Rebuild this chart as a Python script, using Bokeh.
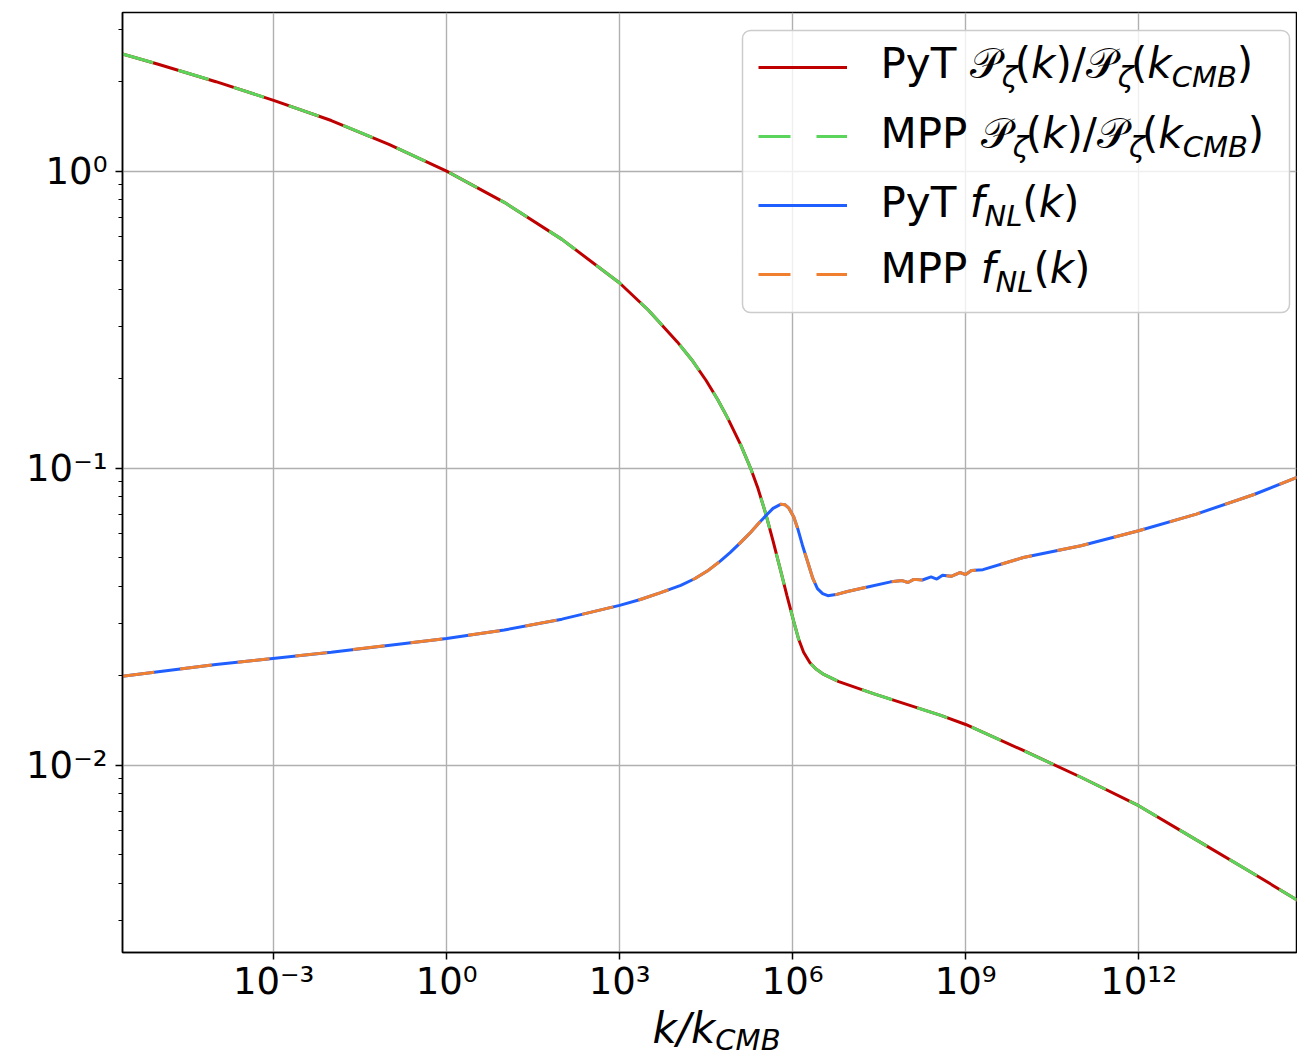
import numpy as np
from bokeh.plotting import figure
from bokeh.layouts import column
from bokeh.models import (FixedTicker, CustomJSTickFormatter, Label, Legend,
                          LegendItem, Range1d, BoxAnnotation)
from bokeh.embed import file_html
from bokeh.resources import INLINE

# ---------------- data ----------------
logk_P = [-5.62, -5.0, -4.0, -3.0, -2.0, -1.0, 0.0, 1.0, 2.0, 3.0, 3.5, 4.0,
          4.25, 4.5, 4.7, 4.87, 5.1, 5.27, 5.4, 5.53, 5.66, 5.79, 5.9, 6.02,
          6.1, 6.19, 6.3, 6.4, 6.54, 6.8, 7.4, 8.57, 9.0, 10.0, 11.0, 12.0,
          13.0, 14.0, 14.76]
P_ratio = [2.48, 2.29, 2.00, 1.73, 1.48, 1.23, 1.00, 0.785, 0.589, 0.42, 0.340,
           0.266, 0.2317, 0.1972, 0.1702, 0.1479, 0.1197, 0.100, 0.0853, 0.0706,
           0.0569, 0.0453, 0.0373, 0.0304, 0.0267, 0.0240, 0.0221, 0.0211,
           0.0202, 0.0191, 0.0174, 0.0147, 0.0137, 0.0112, 0.0091, 0.0073,
           0.0056, 0.0043, 0.0035]

logk_f = [-5.62, -4.0, -2.0, 0.0, 1.0, 2.0, 3.0, 3.36, 3.7, 4.06, 4.3, 4.52,
          4.75, 4.92, 5.1, 5.27, 5.4, 5.53, 5.66, 5.79, 5.87, 5.93, 6.02, 6.09,
          6.17, 6.26, 6.35, 6.43, 6.52, 6.61, 6.75, 6.95, 7.3, 7.7, 7.9, 8.0,
          8.1, 8.25, 8.4, 8.5, 8.6, 8.75, 8.9, 9.0, 9.1, 9.3, 10.0, 11.0, 12.0,
          13.0, 14.0, 14.76]
f_NL = [0.0199, 0.0218, 0.0240, 0.0267, 0.0285, 0.0310, 0.0345, 0.0361, 0.0380,
        0.0403, 0.0424, 0.0450, 0.0487, 0.0520, 0.0562, 0.0607, 0.0648, 0.0690,
        0.0732, 0.0755, 0.0752, 0.0735, 0.0685, 0.0624, 0.0550, 0.0484, 0.0425,
        0.0393, 0.0378, 0.0372, 0.0375, 0.0384, 0.0398, 0.0414, 0.0418, 0.0412,
        0.0422, 0.0420, 0.0430, 0.0423, 0.0436, 0.0432, 0.0445, 0.0438, 0.0452,
        0.0455, 0.0500, 0.0548, 0.0615, 0.0700, 0.0815, 0.0933]

x_ticks = [1e-3, 1e0, 1e3, 1e6, 1e9, 1e12]
y_ticks = [1e-2, 1e-1, 1e0]
y_minor = [3e-3, 4e-3, 5e-3, 6e-3, 7e-3, 8e-3, 9e-3,
           2e-2, 3e-2, 4e-2, 5e-2, 6e-2, 7e-2, 8e-2, 9e-2,
           2e-1, 3e-1, 4e-1, 5e-1, 6e-1, 7e-1, 8e-1, 9e-1, 2.0, 3.0]

k_P = [10 ** v for v in logk_P]
k_f = [10 ** v for v in logk_f]

RED, GREEN, BLUE, ORANGE = "#bf0000", "#5ad45a", "#1f5fff", "#f08030"

# ---------------- figure ----------------
W, H1, H2 = 1297, 1005, 53
FL, FT, FB, FR = 122, 12, 955, 1296     # frame edges (pixels)
p = figure(width=W, height=H1, x_axis_type="log", y_axis_type="log",
           x_range=Range1d(10 ** -5.62, 10 ** 14.737),
           y_range=Range1d(10 ** -2.631, 10 ** 0.534),
           output_backend="svg", toolbar_location=None,
           min_border_left=FL, min_border_right=W - FR, min_border_top=FT,
           min_border_bottom=H1 - FB)
p.background_fill_color = "white"
p.border_fill_color = "white"
p.outline_line_color = "black"
p.outline_line_width = 1.5

xt = FixedTicker(ticks=x_ticks, minor_ticks=[])
yt = FixedTicker(ticks=y_ticks, minor_ticks=y_minor)
p.xaxis.ticker = xt
p.yaxis.ticker = yt
p.xgrid.ticker = xt
p.ygrid.ticker = yt

fmt = CustomJSTickFormatter(code="""
const sup = {"-":"\u207b","0":"\u2070","1":"\u00b9","2":"\u00b2","3":"\u00b3",
             "4":"\u2074","5":"\u2075","6":"\u2076","7":"\u2077","8":"\u2078","9":"\u2079"};
const e = Math.round(Math.log10(tick));
return "10" + String(e).split("").map(c => sup[c]).join("");
""")
for ax in (p.xaxis[0], p.yaxis[0]):
    ax.formatter = fmt
    ax.axis_line_color = "black"
    ax.axis_line_width = 1.5
    ax.major_tick_line_color = "black"
    ax.major_tick_line_width = 1.5
    ax.major_tick_out = 7
    ax.major_tick_in = 0
    ax.minor_tick_line_color = "black"
    ax.minor_tick_line_width = 1.2
    ax.minor_tick_out = 4
    ax.minor_tick_in = 0
    ax.major_label_text_font = "DejaVu Sans"
    ax.major_label_text_font_size = "37px"
    ax.major_label_text_color = "black"
p.xaxis.major_label_standoff = 0
p.yaxis.major_label_standoff = 8

for g in (p.xgrid[0], p.ygrid[0]):
    g.grid_line_color = "#b0b0b0"
    g.grid_line_width = 1.4

# ---------------- curves ----------------
r1 = p.line(k_P, P_ratio, line_color=RED, line_width=3)
r2 = p.line(k_P, P_ratio, line_color=GREEN, line_width=3, line_dash="32 26")
r3 = p.line(k_f, f_NL, line_color=BLUE, line_width=3)
r4 = p.line(k_f, f_NL, line_color=ORANGE, line_width=3, line_dash="32 26")

# ---------------- legend frame, samples ----------------
LEG_L, LEG_R, LEG_T, LEG_B = 742, 1289, 33, 315
box = BoxAnnotation(left=LEG_L - FL, right=LEG_R - FL, top=FB - LEG_T, bottom=FB - LEG_B,
                    left_units="screen", right_units="screen", top_units="screen",
                    bottom_units="screen", fill_color="white", fill_alpha=0.8,
                    line_color="#cccccc", line_alpha=1.0, line_width=1.5,
                    border_radius=8, level="guide")
p.add_layout(box)

PAD = 16
legend = Legend(items=[LegendItem(label=" ", renderers=[r]) for r in (r1, r2, r3, r4)],
                location=(LEG_L + PAD - FL, FB - (LEG_B - 17)), padding=0, spacing=27,
                glyph_width=89, glyph_height=42, label_height=42,
                label_width=400, label_standoff=10, margin=0,
                background_fill_alpha=0.0, border_line_color=None,
                label_text_font_size="8px")
p.add_layout(legend)

# ---------------- texts with sub-scripts ----------------
EM = {"normal": {"P": 0.603, "y": 0.592, "T": 0.611, " ": 0.318, "M": 0.863,
                 "(": 0.390, ")": 0.390, "/": 0.337, "\U0001D4AB": 0.76},
      "italic": {"k": 0.580, "\u03b6": 0.45, "f": 0.352, "N": 0.748, "L": 0.557,
                 "C": 0.698, "M": 0.863, "B": 0.686, "/": 0.337}}
SHIFT = 0.38   # baseline correction (fraction of font size)


def run(fig, pieces, x0, base, bottom, left):
    x = x0
    for txt, style, size, dy in pieces:
        fig.add_layout(Label(x=x - left, y=bottom - (base + dy - SHIFT * size),
                             x_units="screen", y_units="screen", text=txt,
                             text_font="DejaVu Sans", text_font_style=style,
                             text_font_size=f"{size}px", text_baseline="alphabetic",
                             text_align="left", text_color="black", level="overlay"))
        x += sum(EM[style][c] for c in txt) * size


F, S, D = 42, 29, 9
calP = "\U0001D4AB"
pz = [(calP, "normal", F, 0), ("\u03b6", "italic", S, D), ("(", "normal", F, 0),
      ("k", "italic", F, 0), (")/" + calP, "normal", F, 0), ("\u03b6", "italic", S, D),
      ("(", "normal", F, 0), ("k", "italic", F, 0), ("CMB", "italic", S, D),
      (")", "normal", F, 0)]
fz = [("f", "italic", F, 0), ("NL", "italic", S, D), ("(", "normal", F, 0),
      ("k", "italic", F, 0), (")", "normal", F, 0)]
TX = 880
run(p, [("PyT ", "normal", F, 0)] + pz, TX, 82, FB, FL)
run(p, [("MPP ", "normal", F, 0)] + pz, TX, 152, FB, FL)
run(p, [("PyT ", "normal", F, 0)] + fz, TX, 221, FB, FL)
run(p, [("MPP ", "normal", F, 0)] + fz, TX, 287, FB, FL)

# ---------------- x axis label  k/k_CMB (strip below the plot) ----------------
p2 = figure(width=W, height=H2, x_range=Range1d(0, 1), y_range=Range1d(0, 1),
            output_backend="svg", toolbar_location=None, min_border=0,
            x_axis_location=None, y_axis_location=None)
p2.outline_line_color = None
p2.background_fill_color = "white"
p2.border_fill_color = "white"
p2.grid.visible = False
xl = [("k/k", "italic", F, 0), ("CMB", "italic", S, 7)]
# baseline in page pixels; the strip starts at H1, its frame is aligned with p's
run(p2, xl, 652, 1044 - H1, H2, FL)

layout = column(p, p2, spacing=0)
open("out.html", "w").write(file_html(layout, INLINE))
